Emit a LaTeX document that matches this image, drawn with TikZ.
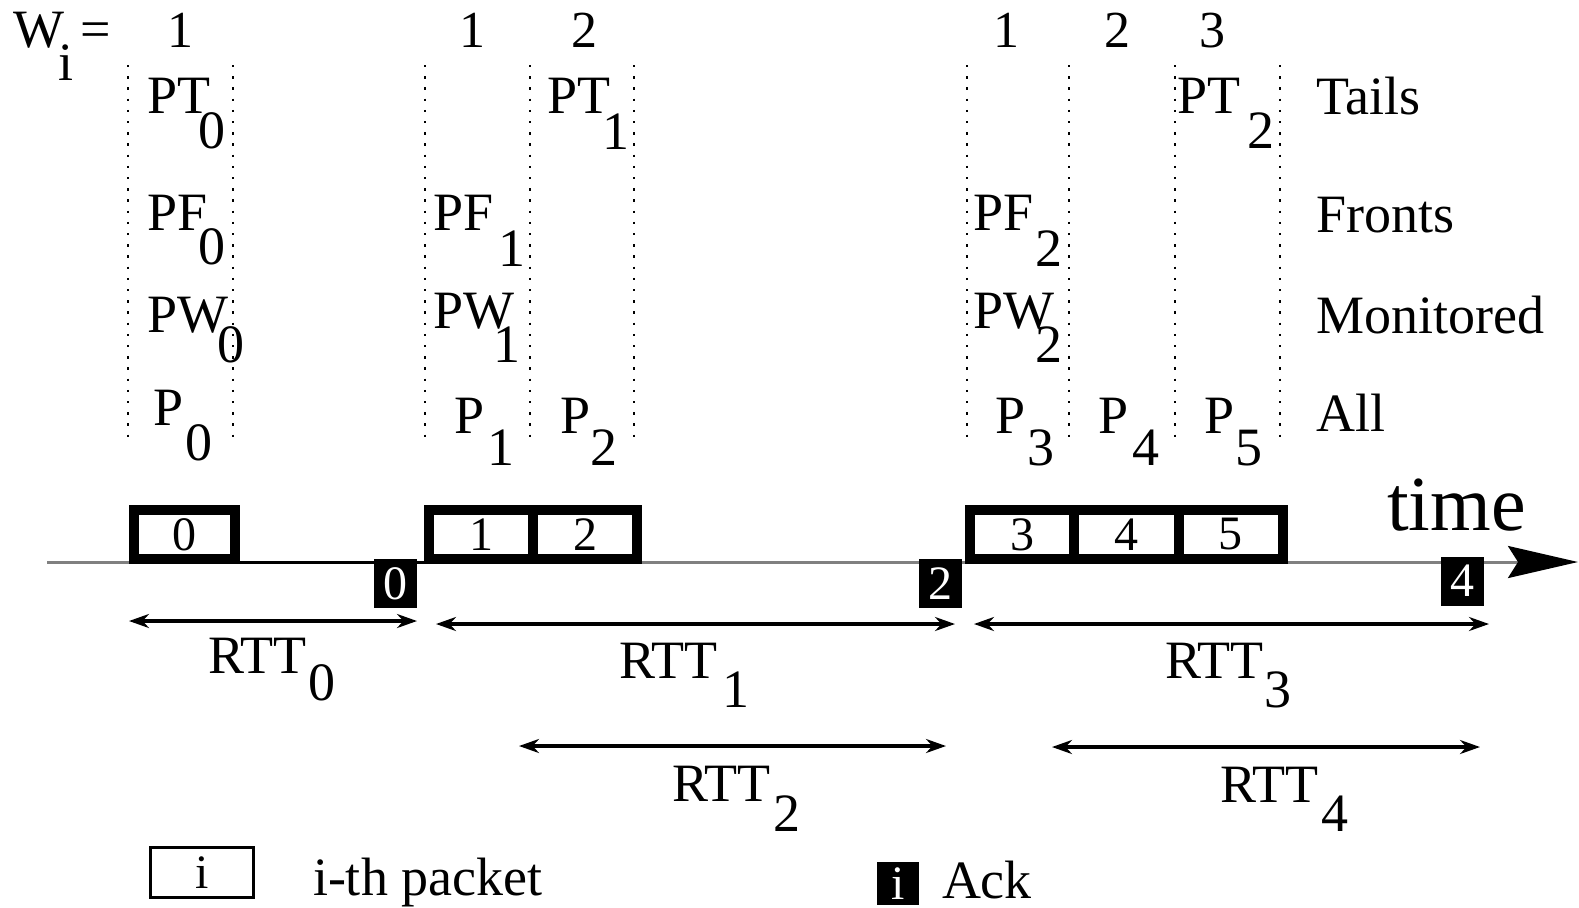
\documentclass[tikz,border=0pt]{standalone}
\usepackage{fontspec}
\setmainfont{Liberation Serif}
\usetikzlibrary{arrows.meta}
\newcommand\fsz[1]{\fontsize{#1}{#1}\selectfont}
\begin{document}
\begin{tikzpicture}[x=0.5pt,y=-0.5pt,
  lbl/.style={inner sep=0pt, outer sep=0pt, anchor=base west, font=\fsz{27}},
  numtop/.style={inner sep=0pt, anchor=base, font=\fsz{26}},
  vdots/.style={line width=1.2pt, dash pattern=on 1.2pt off 4.4pt},
  pkt/.style={draw, line width=5pt, inner sep=0pt, minimum height=24.5pt, font=\fsz{24}},
  ack/.style={fill=black, text=white, inner sep=0pt, minimum width=21.5pt, minimum height=24.5pt, font=\fsz{24}},
  axis/.style={line width=1.5pt, draw=black!50, -{Stealth[length=35pt,width=16pt,inset=5pt,color=black]}},
  rtt/.style={line width=1.6pt, {Stealth[length=10pt,width=7pt]}-{Stealth[length=10pt,width=7pt]}},
]
\useasboundingbox (0,0) rectangle (1579,907);

% header
\node[lbl] (W) at (13,47) {W};
\node[lbl] (Wi) at (58,80) {i};
\node[lbl] (eq) at (80,47) {=};
\foreach \n/\x/\t in {n1/180/1, n2/472/1, n3/584/2, n4/1006/1, n5/1117/2, n6/1212/3}
  \node[numtop] (\n) at (\x,47) {\t};

% dotted separators
\foreach \x in {128,233,425,530,634,967,1069,1175,1280}
  \draw[vdots] (\x,65) -- (\x,437);

% labels with lowered indices
\foreach \nm/\m/\s/\x/\y/\sx/\sy in {
  pt0/PT/0/147/113/198/148, pt1/PT/1/547/113/602/149, pt2/PT/2/1177/113/1247/148,
  pf0/PF/0/147/230/198/264, pf1/PF/1/433/230/498/266, pf2/PF/2/973/230/1035/266,
  pw0/PW/0/147/332/217/362, pw1/PW/1/433/328/493/362, pw2/PW/2/973/328/1035/362,
  q0/P/0/153/425/185/460, q1/P/1/454/433/487/465, q2/P/2/560/433/590/465,
  q3/P/3/995/433/1027/465, q4/P/4/1098/433/1132/465, q5/P/5/1204/433/1235/465}
{
  \node[lbl] (\nm) at (\x,\y) {\m};
  \node[lbl] (\nm-s) at (\sx,\sy) {\s};
}

% row names
\node[lbl] (tails) at (1316,114) {Tails};
\node[lbl] (fronts) at (1316,232) {Fronts};
\node[lbl] (mon) at (1316,333) {Monitored};
\node[lbl] (all) at (1316,431) {All};

% time axis
\coordinate (t0) at (47,562);
\coordinate (t1) at (1578,562);
\draw[axis] (t0) -- (t1);
\node[lbl, font=\fsz{39}] (time) at (1387,530) {time};

% packets
\node[pkt, minimum width=50.5pt] (p0) at (184.5,534.5) {0};
\node[pkt, minimum width=52pt] (p1) at (481,534.5) {1};
\node[pkt, minimum width=52pt] (p2) at (585,534.5) {2};
\node[pkt, minimum width=52.15pt] (p3) at (1022.2,534.5) {3};
\node[pkt, minimum width=52.15pt] (p4) at (1126.5,534.5) {4};
\node[pkt, minimum width=52.15pt] (p5) at (1230.8,534.5) {5};
\draw[line width=1.5pt] (p0.east |- t0) -- (p1.west |- t0);

% acks
\node[ack] (k0) at (395.5,583.5) {0};
\node[ack] (k2) at (940.5,583.5) {2};
\node[ack] (k4) at (1462,581) {4};

% RTT arrows
\coordinate (a0l) at (129,621);  \coordinate (a0r) at (417,621);
\coordinate (a1l) at (436,624);  \coordinate (a1r) at (955,624);
\coordinate (a3l) at (974,624);  \coordinate (a3r) at (1489,624);
\coordinate (a2l) at (519,746);  \coordinate (a2r) at (946,746);
\coordinate (a4l) at (1052,747); \coordinate (a4r) at (1480,747);
\draw[rtt] (a0l) -- (a0r);
\draw[rtt] (a1l) -- (a1r);
\draw[rtt] (a3l) -- (a3r);
\draw[rtt] (a2l) -- (a2r);
\draw[rtt] (a4l) -- (a4r);

\foreach \nm/\s/\x/\y/\sx/\sy in {
  r0/0/208/673/308/700, r1/1/619/678/722/707, r3/3/1165/678/1264/707,
  r2/2/672/801/773/831, r4/4/1220/802/1321/831}
{
  \node[lbl] (\nm) at (\x,\y) {RTT};
  \node[lbl] (\nm-s) at (\sx,\sy) {\s};
}

% legend
\node[draw, line width=1.5pt, inner sep=0pt, minimum width=51.5pt, minimum height=25pt, font=\fsz{24}] (legp) at (202,872.5) {i};
\node[lbl] (legpt) at (313,895) {i-th packet};
\node[fill=black, text=white, inner sep=0pt, minimum width=21pt, minimum height=21.5pt, font=\fsz{24}] (lega) at (898,883.5) {i};
\node[lbl] (legat) at (942,898) {Ack};
\end{tikzpicture}
\end{document}
